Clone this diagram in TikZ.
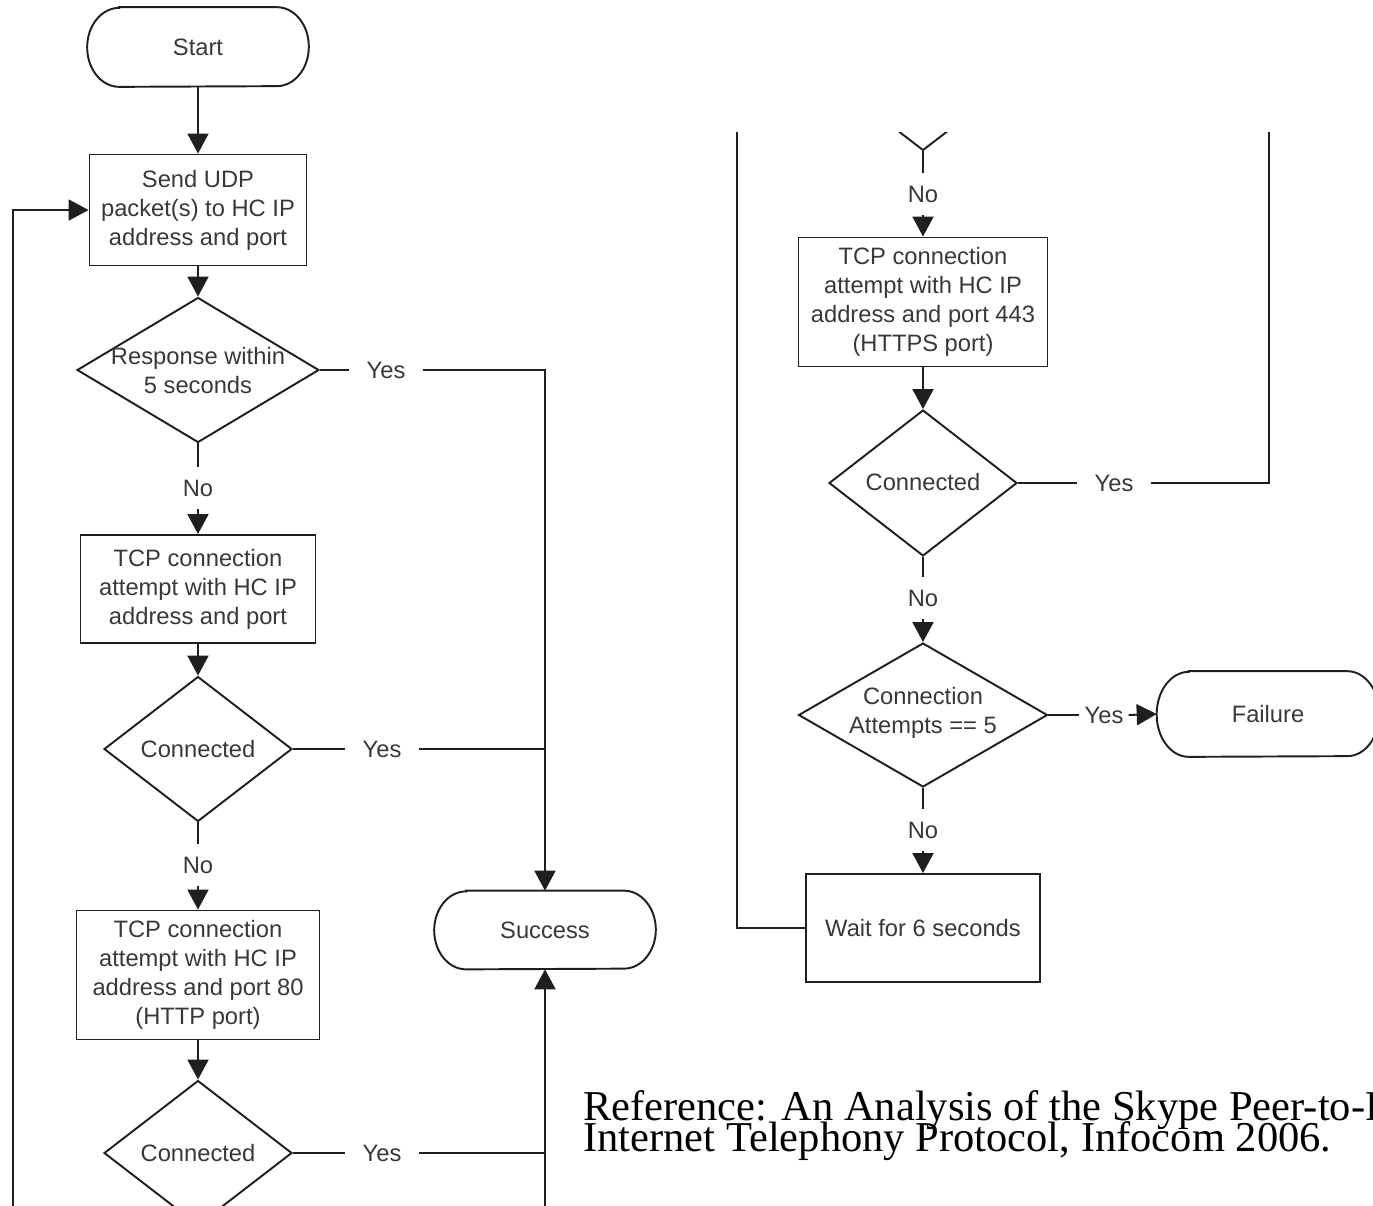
\documentclass[tikz,border=0pt]{standalone}
\usepackage{fontspec}
\setmainfont{Liberation Sans}
\newfontfamily\reffont{Liberation Serif}
\usetikzlibrary{arrows.meta,shapes.geometric}
\newcommand\flowfont{\fontsize{13.5}{16.5}\selectfont}
\newcommand\drawterm[2]{%
  \draw[ln] ([xshift=0.64cm]#1.north west) -- ([xshift=-0.64cm]#1.north east)
    arc[start angle=90,end angle=-90,x radius=0.64cm,y radius=#2]
    -- ([xshift=0.64cm]#1.south west)
    arc[start angle=270,end angle=90,x radius=0.64cm,y radius=#2] -- cycle;}
\tikzset{
  ln/.style={line width=1.1pt, draw=black!88},
  arr/.style={ln, -{Triangle[width=0.42cm,length=0.4cm]}},
  txt/.style={align=center, font=\flowfont, text=black!78, inner sep=0},
  box/.style={rectangle, ln, txt},
  term/.style={rectangle, txt, minimum width=4.42cm},
  dia/.style={diamond, ln, inner sep=0, aspect=1},
  yeslbl/.style={txt, inner xsep=0.34cm, inner ysep=0},
  nolbl/.style={txt, inner xsep=0, inner ysep=0.25cm},
  reftxt/.style={anchor=base west, inner sep=0, font=\reffont\fontsize{24.2}{26}\selectfont, text=black},
}
\begin{document}
\begin{tikzpicture}[x=0.02cm, y=-0.02cm]
\useasboundingbox (0,0) rectangle (1373,1205);
\clip (0,0) rectangle (1373,1205);

% ---------- left column ----------
\node[term, minimum height=1.58cm] (start) at (198,47) {Start};
\drawterm{start}{0.79cm}
\node[box, minimum width=4.34cm, minimum height=2.22cm] (send) at (198,210)
  {Send UDP\\packet(s) to HC IP\\address and port};
\node[dia, minimum width=4.84cm, minimum height=2.9cm] (d1) at (198,370) {};
\node[txt] (d1t) at (198,371) {Response within\\5 seconds};
\node[box, minimum width=4.7cm, minimum height=2.16cm] (tcp1) at (198,589)
  {TCP connection\\attempt with HC IP\\address and port};
\node[dia, minimum width=3.76cm, minimum height=2.9cm] (d2) at (198,749) {};
\node[txt] (d2t) at (198,749) {Connected};
\node[box, minimum width=4.86cm, minimum height=2.58cm] (tcp2) at (198,975)
  {TCP connection\\attempt with HC IP\\address and port 80\\(HTTP port)};
\node[dia, minimum width=3.76cm, minimum height=2.9cm] (d3) at (198,1153) {};
\node[txt] (d3t) at (198,1153) {Connected};
\node[term, minimum height=1.56cm] (succ) at (545,930) {Success};
\drawterm{succ}{0.78cm}

\node[nolbl] (n1) at (198,488) {No};
\node[nolbl] (n2) at (198,865) {No};
\node[yeslbl] (y1) at (386,370) {Yes};
\node[yeslbl] (y2) at (382,749) {Yes};
\node[yeslbl] (y3) at (382,1153) {Yes};

\coordinate (c1) at (545,370);
\coordinate (j2) at (545,749);
\coordinate (j3) at (545,1153);
\coordinate (sb) at (545,1230);
\coordinate (lb) at (13,1230);

\draw[arr] (start.south) -- (send.north);
\draw[arr] (send.south) -- (d1.north);
\draw[ln] (d1.south) -- (n1.north);
\draw[arr] (n1.south) -- (tcp1.north);
\draw[arr] (tcp1.south) -- (d2.north);
\draw[ln] (d2.south) -- (n2.north);
\draw[arr] (n2.south) -- (tcp2.north);
\draw[arr] (tcp2.south) -- (d3.north);
\draw[ln] (d1.east) -- (y1.west);
\draw[arr] (y1.east) -- (c1) -- (succ.north);
\draw[ln] (d2.east) -- (y2.west);
\draw[ln] (y2.east) -- (j2);
\draw[ln] (d3.east) -- (y3.west);
\draw[ln] (y3.east) -- (j3);
\draw[arr] (sb) -- (succ.south);
\draw[arr] (lb) |- (send.west);

% ---------- right column ----------
\begin{scope}
\clip (700,132) rectangle (1373,1205);
\node[dia, minimum width=3.76cm, minimum height=2.9cm] (d0) at (923,78) {};
\node[nolbl] (n0) at (923,194) {No};
\node[box, minimum width=4.98cm, minimum height=2.58cm] (tcp3) at (923,302)
  {TCP connection\\attempt with HC IP\\address and port 443\\(HTTPS port)};
\node[dia, minimum width=3.76cm, minimum height=2.92cm] (d4) at (923,483) {};
\node[txt] (d4t) at (923,482) {Connected};
\node[yeslbl] (y4) at (1114,483) {Yes};
\node[nolbl] (n4) at (923,598) {No};
\node[dia, minimum width=4.98cm, minimum height=2.88cm] (d5) at (923,715) {};
\node[txt] (d5t) at (923,713) {Connection\\Attempts == 5};
\node[txt, inner xsep=0.1cm] (y5) at (1104,715) {Yes};
\node[term, minimum width=4.44cm, minimum height=1.7cm] (fail) at (1268,714) {Failure};
\drawterm{fail}{0.85cm}
\node[nolbl] (n5) at (923,830) {No};
\node[box, minimum width=4.68cm, minimum height=2.16cm] (wait) at (923,928) {Wait for 6 seconds};

\coordinate (rl) at (737,100);
\coordinate (rr) at (1269,100);

\draw[ln] (d0.south) -- (n0.north);
\draw[arr] (n0.south) -- (tcp3.north);
\draw[arr] (tcp3.south) -- (d4.north);
\draw[ln] (d4.south) -- (n4.north);
\draw[arr] (n4.south) -- (d5.north);
\draw[ln] (d5.south) -- (n5.north);
\draw[arr] (n5.south) -- (wait.north);
\draw[ln] (d4.east) -- (y4.west);
\draw[ln] (y4.east) -| (rr);
\draw[ln] (d5.east) -- (y5.west);
\draw[arr] (y5.east) -- (fail.west);
\draw[ln] (wait.west) -| (rl);
\end{scope}

% ---------- reference note ----------
\node[reftxt] (ref1) at (583,1120) {Reference: An Analysis of the Skype Peer-to-Peer};
\node[reftxt] (ref2) at (583,1151) {Internet Telephony Protocol, Infocom 2006.};
\end{tikzpicture}
\end{document}
